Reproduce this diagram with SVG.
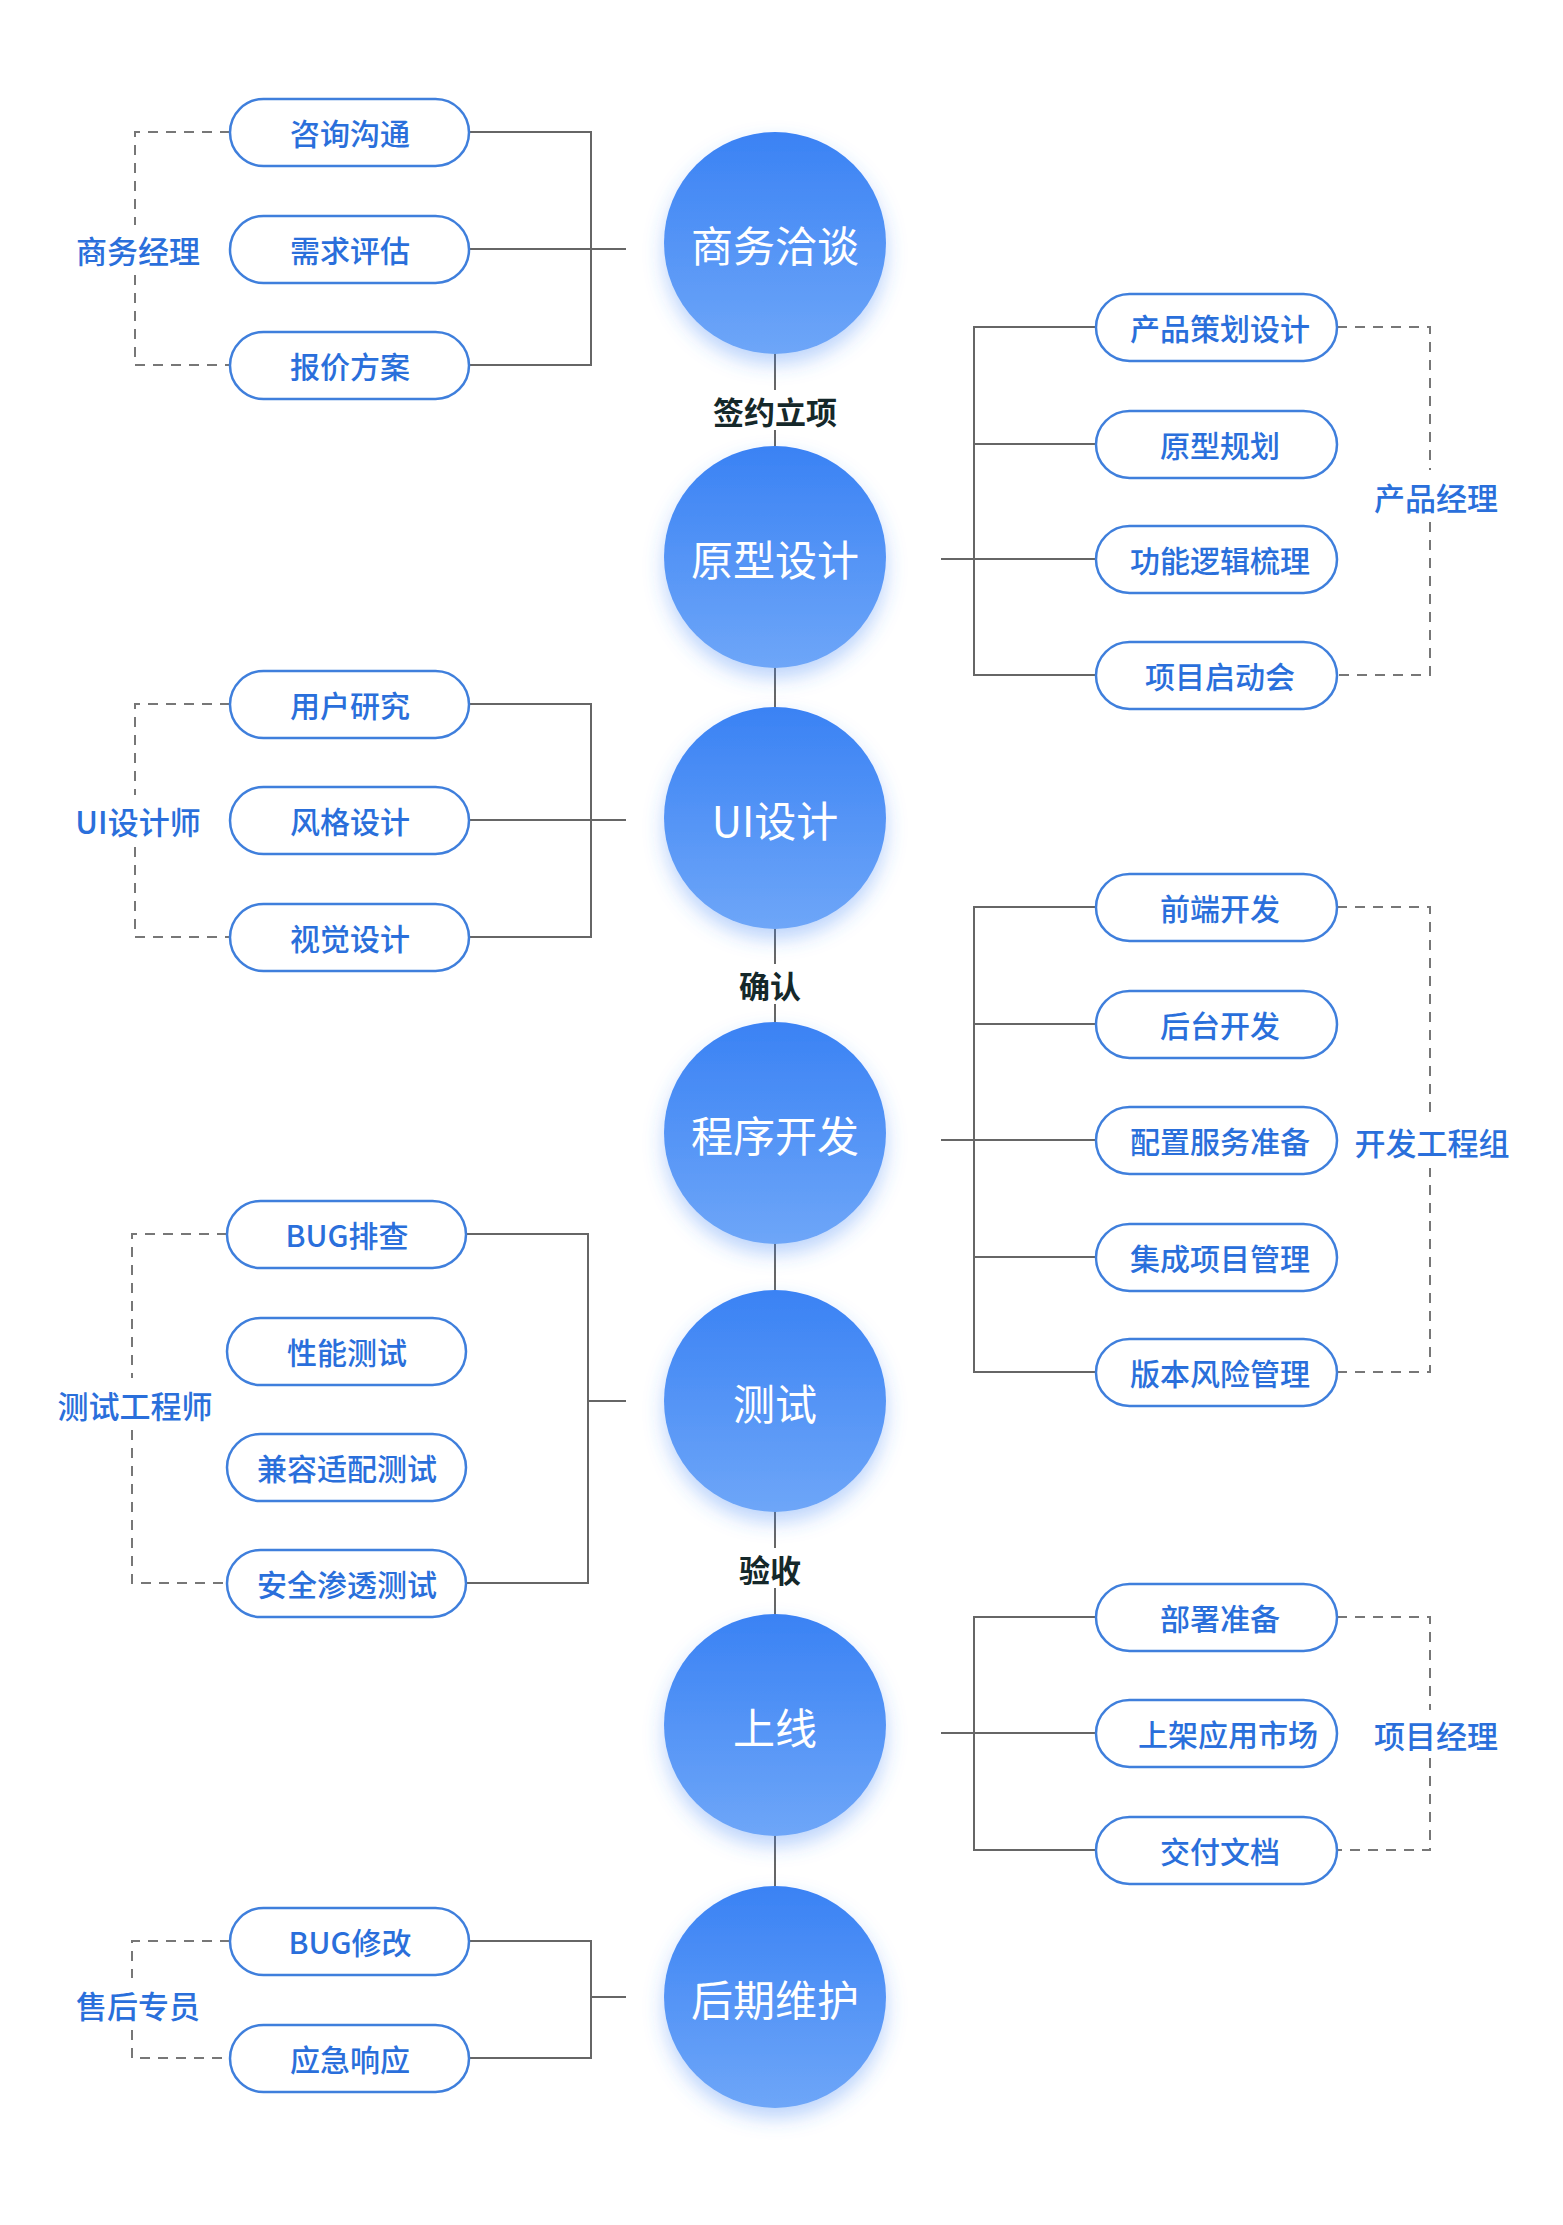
<svg xmlns="http://www.w3.org/2000/svg" width="1563" height="2225" viewBox="0 0 1563 2225">
<style>
.pill{fill:#fff;stroke:#3f7fdc;stroke-width:2.5}
.pt{font-family:"Noto Sans CJK SC","Liberation Sans",sans-serif;font-size:30px;fill:#2a6fdb;text-anchor:middle;dominant-baseline:central;font-weight:500}
.ct{font-family:"Noto Sans CJK SC","Liberation Sans",sans-serif;font-size:42px;fill:#fff;text-anchor:middle;dominant-baseline:central}
.lt{font-family:"Noto Sans CJK SC","Liberation Sans",sans-serif;font-size:31px;fill:#2a6fdb;text-anchor:middle;dominant-baseline:central;font-weight:500}
.st{font-family:"Noto Sans CJK SC","Liberation Sans",sans-serif;font-size:31px;fill:#15282a;text-anchor:middle;dominant-baseline:central;font-weight:700}
.ln{fill:none;stroke:#666;stroke-width:2}
.dl{fill:none;stroke:#777;stroke-width:2;stroke-dasharray:10 8}
</style>
<defs>
<linearGradient id="g" x1="0" y1="0" x2="0" y2="1"><stop offset="0" stop-color="#3a82f4"/><stop offset="1" stop-color="#6ea6f8"/></linearGradient>
<filter id="sh" x="-40%" y="-40%" width="180%" height="180%"><feDropShadow dx="0" dy="10" stdDeviation="10" flood-color="#3a82f4" flood-opacity="0.35"/></filter>
</defs>
<rect width="1563" height="2225" fill="#fff"/>
<g id="connectors">
<path class="ln" d="M775 243V1997"/>
<path class="ln" d="M469 132H591V365H469M469 249H626"/>
<path class="ln" d="M469 704H591V937H469M469 820H626"/>
<path class="ln" d="M466 1234H588V1583H466M588 1401H626"/>
<path class="ln" d="M469 1941H591V2058H469M591 1997H626"/>
<path class="ln" d="M1096 327H974V675H1096M974 444H1096M941 559H1096"/>
<path class="ln" d="M1096 907H974V1372H1096M974 1024H1096M941 1140H1096M974 1257H1096"/>
<path class="ln" d="M1096 1617H974V1850H1096M941 1733H1096"/>
<path class="dl" d="M230 132H135V225M135 275V365H230"/>
<path class="dl" d="M230 704H135V795M135 847V937H230"/>
<path class="dl" d="M227 1234H132V1378M132 1430V1583H227"/>
<path class="dl" d="M230 1941H132V1978M132 2030V2058H230"/>
<path class="dl" d="M1337 327H1430V470M1430 522V675H1337"/>
<path class="dl" d="M1337 907H1430V1115M1337 1372H1430V1168"/>
<path class="dl" d="M1337 1617H1430V1710M1430 1758V1850H1337"/>
</g>
<g id="stage-labels">
<rect x="700" y="390" width="150" height="40" fill="#fff"/><text class="st" x="775" y="410">签约立项</text>
<rect x="725" y="964" width="100" height="40" fill="#fff"/><text class="st" x="770" y="984">确认</text>
<rect x="725" y="1548" width="100" height="40" fill="#fff"/><text class="st" x="770" y="1568">验收</text>
</g>
<g id="circles">
<g id="c1"><circle cx="775" cy="243" r="111" fill="url(#g)" filter="url(#sh)"/><text class="ct" x="775" y="243">商务洽谈</text></g>
<g id="c2"><circle cx="775" cy="557" r="111" fill="url(#g)" filter="url(#sh)"/><text class="ct" x="775" y="557">原型设计</text></g>
<g id="c3"><circle cx="775" cy="818" r="111" fill="url(#g)" filter="url(#sh)"/><text class="ct" x="775" y="818">UI设计</text></g>
<g id="c4"><circle cx="775" cy="1133" r="111" fill="url(#g)" filter="url(#sh)"/><text class="ct" x="775" y="1133">程序开发</text></g>
<g id="c5"><circle cx="775" cy="1401" r="111" fill="url(#g)" filter="url(#sh)"/><text class="ct" x="775" y="1401">测试</text></g>
<g id="c6"><circle cx="775" cy="1725" r="111" fill="url(#g)" filter="url(#sh)"/><text class="ct" x="775" y="1725">上线</text></g>
<g id="c7"><circle cx="775" cy="1997" r="111" fill="url(#g)" filter="url(#sh)"/><text class="ct" x="775" y="1997">后期维护</text></g>
</g>
<g id="left-pills">
<g><rect class="pill" x="230" y="99" width="239" height="67" rx="33.5"/><text class="pt" x="350" y="132">咨询沟通</text></g>
<g><rect class="pill" x="230" y="216" width="239" height="67" rx="33.5"/><text class="pt" x="350" y="249">需求评估</text></g>
<g><rect class="pill" x="230" y="332" width="239" height="67" rx="33.5"/><text class="pt" x="350" y="365">报价方案</text></g>
<g><rect class="pill" x="230" y="671" width="239" height="67" rx="33.5"/><text class="pt" x="350" y="704">用户研究</text></g>
<g><rect class="pill" x="230" y="787" width="239" height="67" rx="33.5"/><text class="pt" x="350" y="820">风格设计</text></g>
<g><rect class="pill" x="230" y="904" width="239" height="67" rx="33.5"/><text class="pt" x="350" y="937">视觉设计</text></g>
<g><rect class="pill" x="227" y="1201" width="239" height="67" rx="33.5"/><text class="pt" x="347" y="1234">BUG排查</text></g>
<g><rect class="pill" x="227" y="1318" width="239" height="67" rx="33.5"/><text class="pt" x="347" y="1351">性能测试</text></g>
<g><rect class="pill" x="227" y="1434" width="239" height="67" rx="33.5"/><text class="pt" x="347" y="1467">兼容适配测试</text></g>
<g><rect class="pill" x="227" y="1550" width="239" height="67" rx="33.5"/><text class="pt" x="347" y="1583">安全渗透测试</text></g>
<g><rect class="pill" x="230" y="1908" width="239" height="67" rx="33.5"/><text class="pt" x="350" y="1941">BUG修改</text></g>
<g><rect class="pill" x="230" y="2025" width="239" height="67" rx="33.5"/><text class="pt" x="350" y="2058">应急响应</text></g>
</g>
<g id="right-pills">
<g><rect class="pill" x="1096" y="294" width="241" height="67" rx="33.5"/><text class="pt" x="1220" y="327">产品策划设计</text></g>
<g><rect class="pill" x="1096" y="411" width="241" height="67" rx="33.5"/><text class="pt" x="1220" y="444">原型规划</text></g>
<g><rect class="pill" x="1096" y="526" width="241" height="67" rx="33.5"/><text class="pt" x="1220" y="559">功能逻辑梳理</text></g>
<g><rect class="pill" x="1096" y="642" width="241" height="67" rx="33.5"/><text class="pt" x="1220" y="675">项目启动会</text></g>
<g><rect class="pill" x="1096" y="874" width="241" height="67" rx="33.5"/><text class="pt" x="1220" y="907">前端开发</text></g>
<g><rect class="pill" x="1096" y="991" width="241" height="67" rx="33.5"/><text class="pt" x="1220" y="1024">后台开发</text></g>
<g><rect class="pill" x="1096" y="1107" width="241" height="67" rx="33.5"/><text class="pt" x="1220" y="1140">配置服务准备</text></g>
<g><rect class="pill" x="1096" y="1224" width="241" height="67" rx="33.5"/><text class="pt" x="1220" y="1257">集成项目管理</text></g>
<g><rect class="pill" x="1096" y="1339" width="241" height="67" rx="33.5"/><text class="pt" x="1220" y="1372">版本风险管理</text></g>
<g><rect class="pill" x="1096" y="1584" width="241" height="67" rx="33.5"/><text class="pt" x="1220" y="1617">部署准备</text></g>
<g><rect class="pill" x="1096" y="1700" width="241" height="67" rx="33.5"/><text class="pt" x="1228" y="1733">上架应用市场</text></g>
<g><rect class="pill" x="1096" y="1817" width="241" height="67" rx="33.5"/><text class="pt" x="1220" y="1850">交付文档</text></g>
</g>
<g id="roles">
<text class="lt" x="138" y="249">商务经理</text>
<text class="lt" x="138" y="820">UI设计师</text>
<text class="lt" x="135" y="1404">测试工程师</text>
<text class="lt" x="138" y="2004">售后专员</text>
<text class="lt" x="1436" y="496">产品经理</text>
<text class="lt" x="1432" y="1141">开发工程组</text>
<text class="lt" x="1436" y="1734">项目经理</text>
</g>
</svg>
